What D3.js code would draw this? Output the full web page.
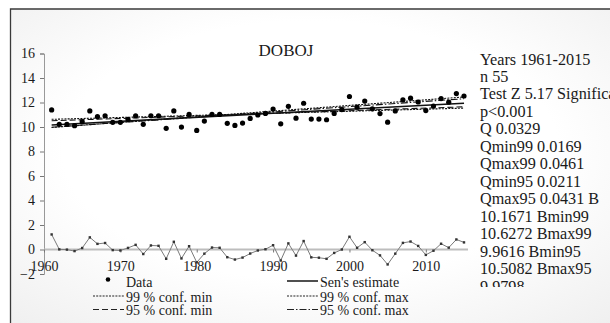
<!DOCTYPE html>
<html>
<head>
<meta charset="utf-8">
<script src="https://cdn.jsdelivr.net/npm/d3@7"></script>
<style>
  body { margin:0; background:#fff; }
  svg text { font-family: "Liberation Serif", "Times New Roman", serif; fill:#1a1a1a; }
</style>
</head>
<body>
<svg id="Vis" width="610" height="323"></svg>
<script>

var station = "DOBOJ";
var firstYear = 1961, lastYear = 2015;

// annual values
var temps = [11.39,10.22,10.22,10.11,10.43,11.31,10.84,10.92,10.38,10.38,
             10.63,10.92,10.22,10.92,10.92,9.89,11.31,9.99,11.03,9.72,
             10.48,11.03,11.03,10.30,10.13,10.32,10.70,10.98,11.11,11.47,
             10.26,11.69,10.72,11.94,10.65,10.65,10.59,11.11,11.42,12.49,
             11.62,12.12,11.48,11.10,10.39,11.31,12.22,12.35,12.04,11.34,
             11.71,12.32,12.03,12.73,12.53];

// residuals around Sen's estimate (lower series)
var residuals = [1.23,0.01,-0.01,-0.13,0.12,0.99,0.46,0.53,-0.05,-0.08,
                 0.13,0.38,-0.37,0.33,0.30,-0.76,0.63,-0.73,0.27,-1.05,
                 -0.34,0.16,0.14,-0.63,-0.82,-0.66,-0.33,-0.08,0.02,0.35,
                 -0.90,0.50,-0.50,0.69,-0.64,-0.67,-0.76,-0.28,0.00,1.04,
                 0.14,0.60,-0.06,-0.48,-1.22,-0.34,0.54,0.65,0.29,-0.44,
                 -0.10,0.47,0.15,0.82,0.58];

var trendNames = ["Sen's estimate","99 % conf. min","99 % conf. max","95 % conf. min","95 % conf. max"];
var trendQ = [0.0329, 0.0169, 0.0461, 0.0211, 0.0431];
var trendB = [10.1671, 10.6272, 9.9616, 10.5082, 9.9798];
var trendDash = [null, "2,1.2", "2,1.2", "6,3", "7,2,1.5,2"];

var yTicks = [-2,0,2,4,6,8,10,12,14,16];
var xTicks = [1960,1970,1980,1990,2000,2010];

var statLines = ["Years 1961-2015","n 55","Test Z 5.17 Significant","p<0.001","Q 0.0329",
                 "Qmin99 0.0169","Qmax99 0.0461","Qmin95 0.0211","Qmax95 0.0431 B",
                 "10.1671 Bmin99","10.6272 Bmax99","9.9616 Bmin95","10.5082 Bmax95","9.9798"];

var years = d3.range(firstYear, lastYear+1);

var svg = d3.select("#Vis");

// soft background + frame
var grad = svg.append("defs").append("radialGradient").attr("id","bg")
   .attr("cx","50%").attr("cy","45%").attr("r","75%");
grad.append("stop").attr("offset","55%").attr("stop-color","#ffffff");
grad.append("stop").attr("offset","100%").attr("stop-color","#efefef");
svg.select("defs").append("clipPath").attr("id","statClip")
   .append("rect").attr("x",0).attr("y",0).attr("width",610).attr("height",287);

svg.append("rect").attr("x",10.5).attr("y",9).attr("width",600).attr("height",314).attr("fill","url(#bg)");
svg.append("path").attr("d","M10.5,323 V9 H610").attr("fill","none").attr("stroke","#3a3a3a").attr("stroke-width",1.3);

var x = d3.scaleLinear().domain([1960, 2015]).range([44, 464]);
var y = d3.scaleLinear().domain([-2, 16]).range([274, 53.5]);

// y axis
var yAxis = svg.append("g").attr("transform","translate(44,0)")
   .call(d3.axisLeft(y).tickValues(yTicks).tickSize(4).tickPadding(5).tickFormat(d3.format("d")));
yAxis.select(".domain").attr("stroke","#999");
yAxis.selectAll(".tick line").attr("stroke","#777");
yAxis.selectAll("text").style("font-size","14px").attr("fill","#1a1a1a");

// zero line with decade ticks
svg.append("line").attr("x1",x(1960)).attr("x2",468).attr("y1",y(0)).attr("y2",y(0))
   .attr("stroke","#bdbdbd").attr("stroke-width",2);
var xAxis = svg.append("g").attr("transform","translate(0,"+y(0)+")")
   .call(d3.axisBottom(x).tickValues(xTicks).tickSize(3).tickPadding(9).tickFormat(d3.format("d")));
xAxis.select(".domain").remove();
xAxis.selectAll(".tick line").attr("stroke","#777");
xAxis.selectAll("text").style("font-size","14px").attr("fill","#1a1a1a");

// title
svg.append("text").attr("x",286).attr("y",56).attr("text-anchor","middle")
   .style("font-size","17px").text(station);

// trend lines
var gTrend = svg.append("g");
for (var i = trendNames.length-1; i >= 0; i--) {
  gTrend.append("line")
     .attr("x1", x(firstYear)).attr("y1", y(trendB[i]))
     .attr("x2", x(lastYear)).attr("y2", y(trendB[i] + trendQ[i]*(lastYear-firstYear)))
     .attr("stroke","#111").attr("stroke-width", i==0 ? 1.6 : 1.1)
     .attr("stroke-dasharray", trendDash[i]);
}

// data dots
svg.append("g").selectAll("circle").data(temps).enter().append("circle")
   .attr("cx", function(d,i){ return x(years[i]); })
   .attr("cy", function(d){ return y(d); })
   .attr("r", 2.6).attr("fill","#000");

// residual series
var resLine = d3.line().x(function(d,i){ return x(years[i]); }).y(function(d){ return y(d); });
svg.append("path").datum(residuals).attr("d", resLine)
   .attr("fill","none").attr("stroke","#7a7a7a").attr("stroke-width",1);
svg.append("g").selectAll("rect").data(residuals).enter().append("rect")
   .attr("x", function(d,i){ return x(years[i])-1.2; })
   .attr("y", function(d){ return y(d)-1.2; })
   .attr("width",2.4).attr("height",2.4).attr("fill","#333");

// stats text
var gStat = svg.append("g").attr("clip-path","url(#statClip)");
gStat.selectAll("text").data(statLines).enter().append("text")
   .attr("x",480).attr("y", function(d,i){ return 64.5 + i*17.47; })
   .style("font-size","16.2px").text(function(d){ return d; });

// legend
var legend = svg.append("g").style("font-size","14px");
legend.append("circle").attr("cx",108).attr("cy",279.5).attr("r",2.3).attr("fill","#000");
legend.append("text").attr("x",126).attr("y",287).text("Data");

var legItems = [
  {col:0, row:1, k:1}, {col:0, row:2, k:3},
  {col:1, row:0, k:0}, {col:1, row:1, k:2}, {col:1, row:2, k:4}
];
legItems.forEach(function(it){
  var lx = it.col==0 ? 93 : 287;
  var ly = [281, 296, 309.5][it.row];
  legend.append("line").attr("x1",lx).attr("x2",lx+31).attr("y1",ly).attr("y2",ly)
     .attr("stroke","#222").attr("stroke-width", it.k==0 ? 1.6 : 1.1)
     .attr("stroke-dasharray", trendDash[it.k]);
  legend.append("text").attr("x",lx+33).attr("y",ly+5.5).text(trendNames[it.k]);
});

</script>
</body>
</html>
